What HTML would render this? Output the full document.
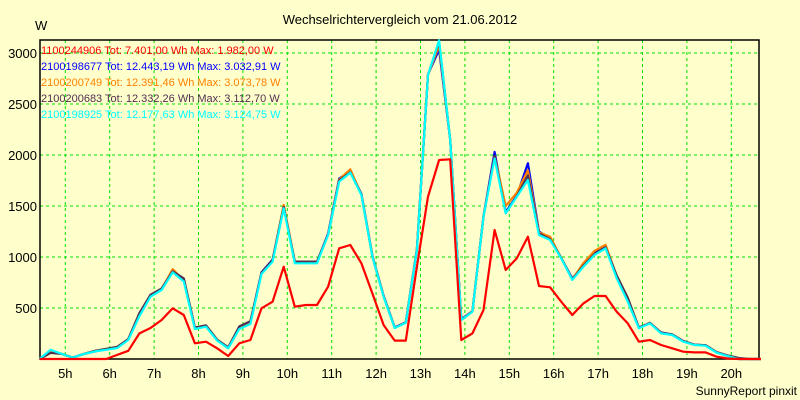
<!DOCTYPE html>
<html><head><meta charset="utf-8"><style>
body{margin:0;background:#FFFFCC;}
svg{display:block;font-family:"Liberation Sans",sans-serif;}
</style></head><body>
<svg id="chart" width="800" height="400" xmlns="http://www.w3.org/2000/svg">
<rect x="0" y="0" width="800" height="400" fill="#FFFFCC"/>
<text x="400" y="24" font-size="13" text-anchor="middle" fill="#000">Wechselrichtervergleich vom 21.06.2012</text>
<text x="35" y="30" font-size="13" fill="#000">W</text>
<text x="797" y="395" font-size="12" text-anchor="end" fill="#000">SunnyReport pinxit</text>
<g id="grid"></g>
<g id="axes"></g>
<g id="series"></g>
<g id="legend"></g>
</svg>
<script>
const times = [4.42,4.67,4.92,5.17,5.42,5.67,5.92,6.17,6.42,6.67,6.92,7.17,7.42,7.67,7.92,8.17,8.42,8.67,8.92,9.17,9.42,9.67,9.92,10.17,10.42,10.67,10.92,11.17,11.42,11.67,11.92,12.17,12.42,12.67,12.92,13.17,13.42,13.67,13.92,14.17,14.42,14.67,14.92,15.17,15.42,15.67,15.92,16.17,16.42,16.67,16.92,17.17,17.42,17.67,17.92,18.17,18.42,18.67,18.92,19.17,19.42,19.67,19.92,20.17,20.42,20.67];
const redValues = [0,0,0,0,0,0,0,40,80,251,304,382,497,431,154,170,105,29,154,186,497,562,905,513,529,529,709,1085,1118,938,640,333,180,180,905,1591,1951,1958,186,251,480,1265,873,987,1199,716,703,562,431,545,618,618,464,349,170,186,137,105,72,65,65,23,5,0,0,0];
const blueValues = [0,80,50,15,50,75,95,115,195,440,620,690,860,780,300,320,185,110,300,360,850,975,1500,950,950,950,1230,1770,1840,1620,1010,620,310,360,1080,2790,3033,2150,390,470,1400,2030,1440,1600,1920,1250,1180,990,790,910,1040,1100,800,580,310,350,260,240,175,140,135,65,30,0,0,0];
const orangeValues = [0,75,50,15,50,80,95,115,190,430,615,685,880,770,300,320,185,110,300,360,840,965,1510,950,950,950,1220,1760,1860,1610,1005,615,305,358,1075,2785,3074,2150,385,468,1398,1990,1500,1630,1850,1240,1200,990,780,940,1060,1120,810,575,305,352,255,238,172,138,132,64,30,0,0,0];
const darkValues = [0,60,50,15,50,80,100,120,195,450,630,690,860,790,310,330,190,115,320,370,845,970,1490,955,955,955,1220,1750,1830,1615,1000,615,305,357,1072,2786,3113,2150,383,466,1396,1990,1430,1595,1800,1230,1175,992,780,915,1030,1095,820,600,305,355,258,240,175,140,135,68,35,10,0,0];
const cyanValues = [0,90,50,15,50,75,90,108,186,420,611,676,850,760,294,317,180,105,294,343,833,954,1477,938,938,938,1216,1738,1827,1608,1000,611,304,356,1069,2784,3125,2147,382,464,1395,1967,1428,1591,1755,1216,1167,987,775,905,1020,1085,791,562,301,349,251,235,170,137,130,62,29,0,0,0];
const seriesNames = ["1100244906 Tot: 7.401,00 Wh Max: 1.982,00 W","2100198677 Tot: 12.443,19 Wh Max: 3.032,91 W","2100200749 Tot: 12.391,46 Wh Max: 3.073,78 W","2100200683 Tot: 12.332,26 Wh Max: 3.112,70 W","2100198925 Tot: 12.177,63 Wh Max: 3.124,75 W"];
const yTicks = [500,1000,1500,2000,2500,3000];
const xTicks = [5,6,7,8,9,10,11,12,13,14,15,16,17,18,19,20];
const xTickLabels = ["5h","6h","7h","8h","9h","10h","11h","12h","13h","14h","15h","16h","17h","18h","19h","20h"];

const NS="http://www.w3.org/2000/svg";
const L=40,R=759,T=40,B=359;
function xs(t){return 65.3+(t-5)*44.4;}
function ys(v){return B-v*0.102;}
function mk(tag,attrs,parent){const e=document.createElementNS(NS,tag);for(const k in attrs)e.setAttribute(k,attrs[k]);parent.appendChild(e);return e;}
const grid=document.getElementById('grid'),axes=document.getElementById('axes'),ser=document.getElementById('series'),leg=document.getElementById('legend');
mk('rect',{x:L,y:T,width:R-L,height:B-T,fill:'#FFFFCC'},grid);
yTicks.forEach(v=>{
  const l=mk('line',{x1:L,x2:R,y1:ys(v),y2:ys(v),stroke:'#00E000','stroke-dasharray':'3,3','stroke-width':1},grid);
  
  
  const t=mk('text',{x:37,y:ys(v)+5,'font-size':13,'text-anchor':'end',fill:'#000'},axes);
  t.textContent=v;
  
  
});
xTicks.forEach((h,i)=>{
  const l=mk('line',{x1:xs(h),x2:xs(h),y1:T,y2:B,stroke:'#00E000','stroke-dasharray':'3,3','stroke-width':1},grid);
  
  
  const t=mk('text',{x:xs(h),y:378,'font-size':13,'text-anchor':'middle',fill:'#000'},axes);
  t.textContent=xTickLabels[i];
  
  
});
const frame=mk('rect',{x:L,y:T,width:R-L,height:B-T,fill:'none',stroke:'#000','stroke-width':1.5},axes);


const series=[
 {v:blueValues,c:'#0000FF',n:'series-2100198677'},
 {v:orangeValues,c:'#FF8000',n:'series-2100200749'},
 {v:darkValues,c:'#503050',n:'series-2100200683'},
 {v:cyanValues,c:'#00FFFF',n:'series-2100198925'},
 {v:redValues,c:'#FF0000',n:'series-1100244906'}
];
series.forEach(s=>{
  const d=s.v.map((v,i)=>(i?'L':'M')+xs(times[i]).toFixed(1)+','+ys(v).toFixed(1)).join(' ');
  const p=mk('path',{d:d,fill:'none',stroke:s.c,'stroke-width':2.2,'stroke-linejoin':'round'},ser);
  
  
});
const legColors=['#FF0000','#0000FF','#FF8000','#503050','#00FFFF'];
seriesNames.forEach((n,i)=>{
  const t=mk('text',{x:41,y:54+i*16,'font-size':11,fill:legColors[i]},leg);
  t.textContent=n;
  
  
});
</script>
</body></html>
